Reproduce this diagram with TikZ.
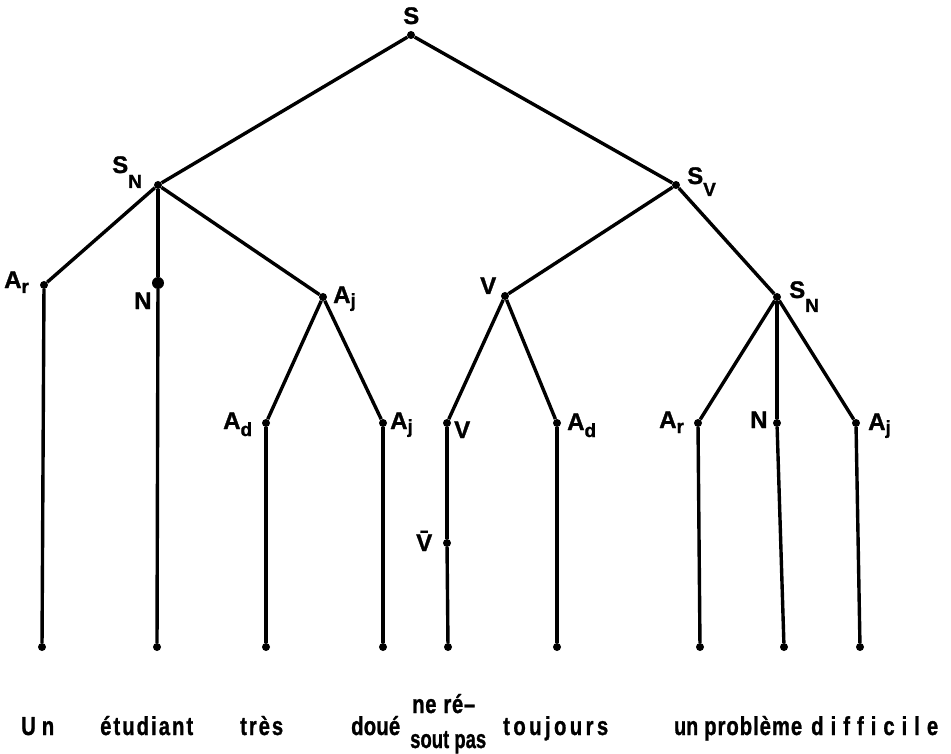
\documentclass[tikz,border=0pt]{standalone}
\usepackage{fontspec}
\usepackage{graphicx}
\setmainfont{Liberation Sans}[BoldFont={* Bold},BoldFeatures={FakeBold=1.2}]
\newcommand{\lbl}[3]{\bfseries #1\raisebox{-#3pt}{\fontsize{19}{19}\selectfont #2}}
% spread letters of a word over a given width
\makeatletter
\newcommand\spcout[1]{\spc@A#1\relax}
\def\spc@A#1{#1\spc@B}
\def\spc@B#1{\ifx#1\relax\else\hskip 0pt plus 1fil\relax #1\expandafter\spc@B\fi}
\makeatother
\newlength\wrdW
\newcommand\wrd[2]{%
  \settowidth\wrdW{#2}%
  \pgfmathsetmacro\wrdS{min(0.78,#1/\wrdW)}%
  \pgfmathsetmacro\wrdT{#1/\wrdS}%
  \scalebox{\wrdS}[1]{\makebox[\wrdT pt][s]{\spcout{#2}}}}
\begin{document}
\begin{tikzpicture}[x=1pt,y=-1pt,
  dot/.style={circle,fill=black,inner sep=0pt,minimum size=8pt},
  bigdot/.style={circle,fill=black,inner sep=0pt,minimum size=12pt},
  edge/.style={line width=3.4pt},
  lab/.style={inner sep=0pt,anchor=base west,font=\fontsize{24}{24}\selectfont\bfseries},
  word/.style={inner sep=0pt,anchor=base west,font=\fontsize{26}{26}\selectfont\bfseries}]
\useasboundingbox (0,0) rectangle (951,754);
% tree nodes
\node[dot] (S) at (411,35) {};
\node[dot] (SN) at (158,185) {};
\node[dot] (SV) at (676,185) {};
\node[dot] (Ar) at (44,285) {};
\node[bigdot] (N) at (158,283) {};
\node[dot] (Aj) at (323,297) {};
\node[dot] (V) at (505,296) {};
\node[dot] (SNb) at (777,297) {};
\node[dot] (Ad) at (266,423) {};
\node[dot] (Ajb) at (383,423) {};
\node[dot] (Vb) at (447,423) {};
\node[dot] (Adb) at (557,423) {};
\node[dot] (Arb) at (698,423) {};
\node[dot] (Nb) at (777,423) {};
\node[dot] (Ajc) at (856,423) {};
\node[dot] (Vbar) at (447,543) {};
\node[dot] (b1) at (42,647) {};
\node[dot] (b2) at (157,647) {};
\node[dot] (b3) at (266,647) {};
\node[dot] (b4) at (383,647) {};
\node[dot] (b5) at (448,647) {};
\node[dot] (b6) at (557,647) {};
\node[dot] (b7) at (700,647) {};
\node[dot] (b8) at (784,647) {};
\node[dot] (b9) at (860,647) {};
% edges
\draw[edge] (S) -- (SN);
\draw[edge] (S) -- (SV);
\draw[edge] (SN) -- (Ar);
\draw[edge] (SN) -- (N);
\draw[edge] (SN) -- (Aj);
\draw[edge] (Aj) -- (Ad);
\draw[edge] (Aj) -- (Ajb);
\draw[edge] (SV) -- (V);
\draw[edge] (SV) -- (SNb);
\draw[edge] (V) -- (Vb);
\draw[edge] (V) -- (Adb);
\draw[edge] (SNb) -- (Arb);
\draw[edge] (SNb) -- (Nb);
\draw[edge] (SNb) -- (Ajc);
\draw[edge] (Ar) -- (b1);
\draw[edge] (N) -- (b2);
\draw[edge] (Ad) -- (b3);
\draw[edge] (Ajb) -- (b4);
\draw[edge] (Vb) -- (Vbar);
\draw[edge] (Vbar) -- (b5);
\draw[edge] (Adb) -- (b6);
\draw[edge] (Arb) -- (b7);
\draw[edge] (Nb) -- (b8);
\draw[edge] (Ajc) -- (b9);
% labels
\node[lab] (lS) at (403,24) {S};
\node[lab] (lSN) at (112,173) {\lbl{S}{N}{15}};
\node[lab] (lSV) at (687,184) {\lbl{S}{V}{12}};
\node[lab] (lAr) at (4,288) {\lbl{A}{r}{5}};
\node[lab] (lN) at (134,309) {N};
\node[lab] (lAj) at (333,303) {\lbl{A}{j}{4}};
\node[lab] (lV) at (480,294) {V};
\node[lab] (lSNb) at (789,298) {\lbl{S}{N}{14}};
\node[lab] (lAd) at (223,429) {\lbl{A}{d}{7}};
\node[lab] (lAjb) at (390,429) {\lbl{A}{j}{4}};
\node[lab] (lVb) at (454,438) {V};
\node[lab] (lVbar) at (416,551) {\=V};
\node[lab] (lAdb) at (567,430) {\lbl{A}{d}{7}};
\node[lab] (lArb) at (659,428) {\lbl{A}{r}{5}};
\node[lab] (lNb) at (750,428) {N};
\node[lab] (lAjc) at (868,430) {\lbl{A}{j}{4}};
% words
\node[word] (w1) at (21,735) {\wrd{33}{Un}};
\node[word] (w2) at (100,735) {\wrd{93}{étudiant}};
\node[word] (w3) at (240,735) {\wrd{43}{très}};
\node[word] (w4) at (351,735) {\wrd{49}{doué}};
\node[word] (w5) at (412,713) {\wrd{63}{ne~ré–}};
\node[word] (w6) at (410,748) {\wrd{76}{sout~pas}};
\node[word] (w7) at (503,735) {\wrd{105}{toujours}};
\node[word] (w8a) at (674,735) {\wrd{24}{un}};
\node[word] (w8b) at (704,735) {\wrd{98}{problème}};
\node[word] (w8c) at (811,735) {\wrd{127}{difficile}};
\end{tikzpicture}
\end{document}
